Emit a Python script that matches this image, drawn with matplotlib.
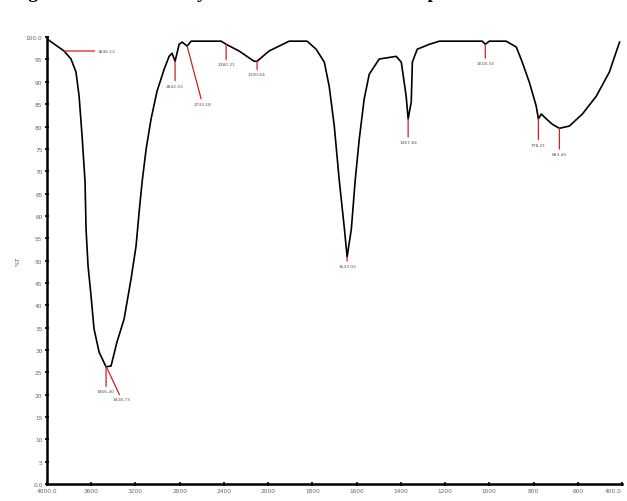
import numpy as np
import matplotlib
matplotlib.use("Agg")
from matplotlib import pyplot as plt

# spectrum trace (cm-1, %T)
wavenumber = [4000, 3846, 3783, 3738, 3710, 3683, 3656, 3647, 3629, 3602, 3575, 3529,
              3466, 3421, 3367, 3303, 3240, 3195, 3167, 3140, 3104, 3059, 3005, 2941,
              2896, 2869, 2842, 2805, 2778, 2733, 2697, 2425, 2380, 2263, 2127, 2100,
              1996, 1905, 1824, 1783, 1746, 1724, 1701, 1679, 1655, 1643, 1624, 1606,
              1588, 1566, 1543, 1498, 1421, 1398, 1376, 1367, 1353, 1348, 1326, 1271,
              1226, 1032, 1018, 1000, 924, 878, 851, 819, 788, 778, 765, 742, 715, 683,
              638, 579, 516, 457, 411]
transmittance = [99.6, 96.9, 95.1, 92.2, 86.8, 77.9, 67.6, 57.0, 48.8, 42.1, 34.7, 29.5,
                 26.2, 26.4, 31.8, 36.9, 45.9, 53.2, 60.9, 67.6, 74.9, 81.7, 87.9, 92.8,
                 95.7, 96.4, 94.6, 98.4, 98.9, 98.0, 99.1, 99.1, 98.4, 96.9, 94.6, 94.6,
                 96.9, 99.1, 99.1, 97.3, 94.4, 89.0, 80.1, 68.2, 57.0, 50.8, 57.0, 68.2,
                 77.2, 86.1, 91.7, 95.1, 95.7, 94.4, 86.8, 81.7, 85.5, 94.4, 97.3, 98.4,
                 99.1, 99.1, 98.4, 99.1, 99.1, 97.8, 94.4, 89.9, 84.6, 81.7, 82.8, 81.7,
                 80.5, 79.6, 80.1, 82.8, 86.8, 92.2, 98.9]

# picked peaks
peak_wn = [3846, 3466, 3463, 2842, 2733, 2380, 2100, 1643, 1367, 1018, 778, 683]
peak_t = [96.9, 26.2, 26.2, 94.6, 98.0, 98.4, 94.6, 50.8, 81.7, 98.4, 81.7, 79.6]
peak_txt = ["3846.12", "3466.40", "3428.73", "2842.55", "2733.18", "2380.21",
            "2100.64", "1643.02", "1367.84", "1018.33", "778.21", "683.45"]

xtick_vals = [4000, 3600, 3200, 2800, 2400, 2000, 1800, 1600, 1400, 1200, 1000, 800, 600, 400]
xtick_txt = ["4000.0", "3600", "3200", "2800", "2400", "2000", "1800", "1600",
             "1400", "1200", "1000", "800", "600", "400.0"]
ytick_vals = list(range(0, 101, 5))
ytick_txt = ["0.0"] + [str(v) for v in ytick_vals[1:-1]] + ["100.0"]


# scale changes at 2000 cm-1 (400 per div above, 200 per div below)
def fwd(w):
    w = np.asarray(w, dtype=float)
    return np.where(w >= 2000, w / 400.0 - 10, w / 200.0 - 15)


def inv(p):
    p = np.asarray(p, dtype=float)
    return np.where(p >= -5, (p + 10) * 400.0, (p + 15) * 200.0)


fig = plt.figure(figsize=(6.27, 5.02), dpi=100)
ax = fig.add_axes([0.075, 0.034, 0.917, 0.89])
ax.set_xscale("function", functions=(fwd, inv))

ax.plot(wavenumber, transmittance, color="black", lw=1.2)

# peak markers: (offset x, offset y) in points for the red leader line
offsets = [(24, 0), (0, -16), (11, -22), (0, -16), (11, -40), (0, -13),
           (0, -8), (0, -5), (0, -15), (0, -12), (0, -17), (0, -17)]
for wn, t, s, (dx, dy) in zip(peak_wn, peak_t, peak_txt, offsets):
    ax.annotate(s, xy=(wn, t), xytext=(dx, dy), textcoords="offset points",
                fontsize=3.2, color="#555555",
                ha="left" if dx > 20 else "center", va="top" if dx <= 20 else "center",
                arrowprops=dict(arrowstyle="-", color="#d02020", lw=0.9,
                                shrinkA=0, shrinkB=0))

ax.set_xlim(4000, 400)
ax.set_ylim(0, 100)
ax.set_xticks(xtick_vals)
ax.set_xticklabels(xtick_txt)
ax.set_yticks(ytick_vals)
ax.set_yticklabels(ytick_txt)
ax.xaxis.set_minor_locator(matplotlib.ticker.NullLocator())
ax.tick_params(labelsize=4.2, labelcolor="#666666", length=2.5, width=1.2,
               direction="inout", pad=2)
ax.get_xticklabels()[-1].set_horizontalalignment("right")
ax.set_ylabel("%T", fontsize=4.2, color="#555555", labelpad=4)

for side in ["top", "right"]:
    ax.spines[side].set_visible(False)
for side in ["left", "bottom"]:
    ax.spines[side].set_linewidth(1.8)

# caption of the source figure, only its descenders show at the top edge
fig.text(0.018, 1.004, "Figure 4.3: FTIR Analysis of the treated resin sample",
         fontsize=14, fontweight="bold", family="Liberation Serif", va="baseline")

fig.savefig("out.png", dpi=100)
